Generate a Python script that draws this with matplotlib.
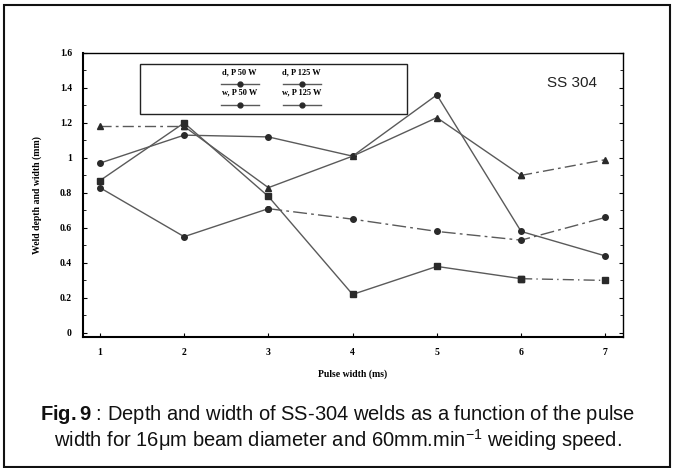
import matplotlib
matplotlib.use("Agg")
import matplotlib.pyplot as plt
from matplotlib.patches import Rectangle
from matplotlib.lines import Line2D
import numpy as np

plt.rcParams["mathtext.fontset"] = "custom"
plt.rcParams["mathtext.rm"] = "Liberation Sans"
plt.rcParams["mathtext.bf"] = "Liberation Sans:bold"
plt.rcParams["mathtext.it"] = "Liberation Sans:italic"

pulse_width = [1, 2, 3, 4, 5, 6, 7]
x_ticks = [1, 2, 3, 4, 5, 6, 7]
y_ticks = [0, 0.2, 0.4, 0.6, 0.8, 1.0, 1.2, 1.4, 1.6]
y_tick_labels = ["0", "0.2", "0.4", "0.6", "0.8", "1", "1.2", "1.4", "1.6"]

# series values (mm)
d_p50 = [0.87, 1.20, 0.78, 0.22, 0.38, 0.31, 0.30]
d_p125 = [0.97, 1.13, 1.12, 1.01, 1.36, 0.58, 0.44]
w_p50 = [0.83, 0.55, 0.71, 0.65, 0.58, 0.53, 0.66]
w_p125 = [1.18, 1.18, 0.83, 1.01, 1.23, 0.90, 0.99]

legend_labels = ["d, P 50 W", "d, P 125 W", "w, P 50 W", "w, P 125 W"]

serif = ["Liberation Serif", "DejaVu Serif"]
sans = ["Liberation Sans", "DejaVu Sans"]

fig = plt.figure(figsize=(6.75, 4.68), dpi=100)
ax = fig.add_axes([0.123, 0.28, 0.8, 0.607])

lc = "#5a5a5a"
mc = "#2a2a2a"
kw = dict(color=lc, lw=1.0, markersize=4, markerfacecolor=mc, markeredgecolor=mc)
x = np.array(pulse_width)

# d, P 50 W (squares)
ax.plot(x[:6], d_p50[:6], marker="s", ls="-", **kw)
ax.plot(x[5:], d_p50[5:], marker="s", ls=(0, (8, 3, 1, 3)), **kw)
# d, P 125 W
ax.plot(x, d_p125, marker="o", ls="-", **kw)
# w, P 50 W
ax.plot(x[:3], w_p50[:3], marker="o", ls="-", **kw)
ax.plot(x[2:], w_p50[2:], marker="o", ls=(0, (10, 3, 2, 3)), **kw)
# w, P 125 W (triangles)
ax.plot(x[:2], w_p125[:2], marker="^", ls=(0, (8, 3, 2, 3)), **kw)
ax.plot(x[1:6], w_p125[1:6], marker="^", ls="-", **kw)
ax.plot(x[5:], w_p125[5:], marker="^", ls=(0, (8, 3, 2, 3)), **kw)

ax.set_xlim(0.8, 7.21)
ax.set_ylim(-0.023, 1.6)
ax.set_xticks(x_ticks)
ax.set_xticklabels([str(v) for v in x_ticks], fontfamily=serif, fontweight="bold", fontsize=7)
ax.set_yticks(y_ticks)
ax.set_yticklabels(y_tick_labels, fontfamily=serif, fontweight="bold", fontsize=7)
ax.set_yticks(np.arange(0.1, 1.6, 0.2), minor=True)
ax.tick_params(axis="both", direction="in", length=3, width=0.8, pad=8)
ax.tick_params(axis="y", which="both", right=True, direction="in")
ax.tick_params(axis="y", which="minor", length=2)
for s in ["left", "bottom"]:
    ax.spines[s].set_linewidth(1.5)
for s in ["top", "right"]:
    ax.spines[s].set_linewidth(1.0)

ax.set_xlabel("Pulse width (ms)", fontfamily=serif, fontweight="bold", fontsize=7, labelpad=9)
ax.set_ylabel("Weld depth and width (mm)", fontfamily=serif, fontweight="bold", fontsize=7, labelpad=13)

ax.text(0.905, 0.895, "SS 304", transform=ax.transAxes, ha="center", va="center",
        fontsize=11, fontfamily=sans, color="#222")

# legend box
ax.add_patch(Rectangle((0.1056, 0.785), 0.494, 0.176, transform=ax.transAxes,
                       fill=False, lw=1.0, ec="#222", clip_on=False))
cols = [0.29, 0.405]
rows = [(0.932, 0.89), (0.862, 0.818)]
for i, lab in enumerate(legend_labels):
    r, c = divmod(i, 2)
    ty, ly = rows[r]
    cx = cols[c]
    ax.text(cx, ty, lab, transform=ax.transAxes, ha="center", va="center",
            fontsize=6, fontfamily=serif, fontweight="bold")
    ax.add_line(Line2D([cx - 0.035, cx + 0.035], [ly, ly], transform=ax.transAxes,
                       color=lc, lw=1.0))
    ax.add_line(Line2D([cx], [ly], transform=ax.transAxes, marker="o", markersize=3.5,
                       color=mc, ls="none"))

# figure frame
fig.add_artist(Rectangle((4 / 675, 1 / 468), 666 / 675, 462 / 468, transform=fig.transFigure,
                         fill=False, lw=1.5, ec="#111"))

fig.text(0.5, 1 - 415 / 468, r"$\bf{Fig.9}$ : Depth and width of SS-304 welds as a function of the pulse",
         ha="center", va="center", fontsize=14.5, fontfamily=sans, color="#111")
fig.text(0.5, 1 - 440 / 468, "width for 16\u03bcm beam diameter and 60mm.min$^{-1}$ weiding speed.",
         ha="center", va="center", fontsize=14.5, fontfamily=sans, color="#111")

fig.savefig("out.png", dpi=100)
